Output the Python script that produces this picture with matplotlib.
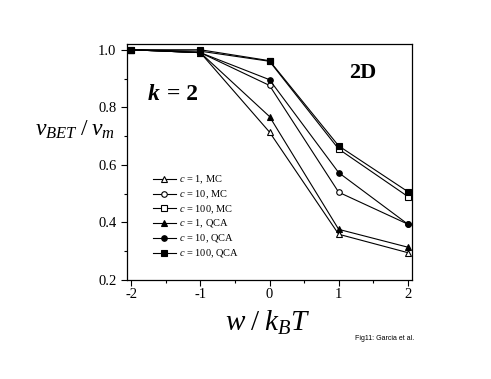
import matplotlib
matplotlib.use("Agg")
import matplotlib.pyplot as plt
from matplotlib.ticker import MultipleLocator

plt.rcParams['font.family'] = ['Liberation Serif', 'DejaVu Serif']
plt.rcParams['mathtext.fontset'] = 'custom'
plt.rcParams['mathtext.rm'] = 'Liberation Serif'
plt.rcParams['mathtext.it'] = 'Liberation Serif:italic'
plt.rcParams['mathtext.bf'] = 'Liberation Serif:bold'
plt.rcParams['mathtext.bfit'] = 'Liberation Serif:italic:bold'

x = [-2, -1, 0, 1, 2]
c1_mc = [1.0, 0.99, 0.714, 0.359, 0.295]
c10_mc = [1.0, 0.99, 0.876, 0.505, 0.394]
c100_mc = [1.0, 0.995, 0.960, 0.655, 0.490]
c1_qca = [1.0, 0.99, 0.768, 0.376, 0.314]
c10_qca = [1.0, 0.99, 0.896, 0.573, 0.394]
c100_qca = [1.0, 1.0, 0.962, 0.666, 0.507]

series = [
    (c1_mc, '^', 'none', '$c$ = 1, MC'),
    (c10_mc, 'o', 'none', '$c$ = 10, MC'),
    (c100_mc, 's', 'none', '$c$ = 100, MC'),
    (c1_qca, '^', 'black', '$c$ = 1, QCA'),
    (c10_qca, 'o', 'black', '$c$ = 10, QCA'),
    (c100_qca, 's', 'black', '$c$ = 100, QCA'),
]

fig = plt.figure(figsize=(4.91, 3.79), dpi=100)
ax = fig.add_axes([127/491, 1 - 280/379, (412-127)/491, (280-44)/379])

for ys, m, fc, lab in series:
    ax.plot(x, ys, color='black', lw=0.8, marker=m, ms=4,
            mfc='white' if fc == 'none' else 'black', mec='black', mew=0.8,
            label=lab)

ax.set_xlim(-2.06, 2.06)
ax.set_ylim(0.2, 1.02)
ax.xaxis.set_major_locator(MultipleLocator(1))
ax.xaxis.set_minor_locator(MultipleLocator(0.5))
ax.yaxis.set_major_locator(MultipleLocator(0.2))
ax.yaxis.set_minor_locator(MultipleLocator(0.1))
ax.tick_params(which='both', direction='out', top=False, right=False, labelsize=10.5)
ax.tick_params(which='major', length=4, width=0.8)
ax.tick_params(which='minor', length=2.5, width=0.8)
ax.set_xticklabels([])
for v in x:
    ax.text(v, -0.035, '%d' % v, transform=ax.get_xaxis_transform(),
            ha='center', va='top', fontsize=10.5)
ax.set_yticks([0.2, 0.4, 0.6, 0.8, 1.0])
ax.set_yticklabels(['0.2', '0.4', '0.6', '0.8', '1.0'])
for s in ax.spines.values():
    s.set_linewidth(0.9)

leg = ax.legend(loc='upper left', bbox_to_anchor=(0.09, 0.45), frameon=False,
                fontsize=7.5, handlelength=2.2, labelspacing=0.22,
                handletextpad=0.3, borderaxespad=0, borderpad=0)

ax.text(0.07, 0.785, '$\\mathbfit{k}$', transform=ax.transAxes,
        fontsize=17, ha='left', va='center')
ax.text(0.142, 0.785, '= 2', transform=ax.transAxes,
        fontsize=17, fontweight='bold', ha='left', va='center')
ax.text(0.78, 0.875, '2D', transform=ax.transAxes, fontsize=16,
        fontweight='bold', ha='left', va='center')

fig.text(75/491, 1 - 130/379, '$v_{BET}\\;/\\;v_m$', fontsize=17,
         ha='center', va='center')
fig.text(268/491, 1 - 323/379, '$w\\;/\\;k_BT$', fontsize=21,
         ha='center', va='center')
fig.text(385/491, 1 - 339/379, 'Fig11: Garcia et al.', fontsize=5,
         family='Liberation Sans', ha='center', va='center')

fig.savefig('out.png', dpi=100)
